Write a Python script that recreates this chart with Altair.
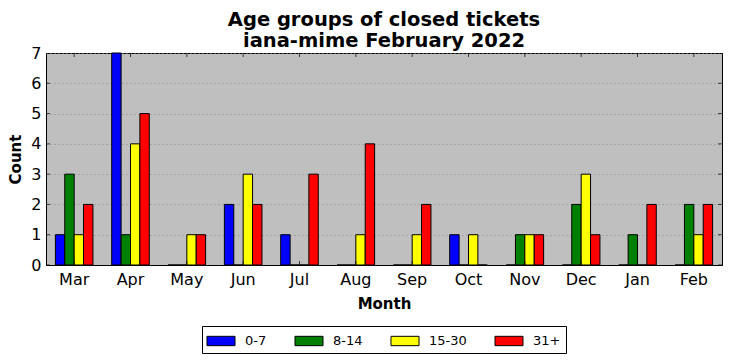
import altair as alt
import pandas as pd

months = ["Mar", "Apr", "May", "Jun", "Jul", "Aug", "Sep", "Oct", "Nov", "Dec", "Jan", "Feb"]
groups = ["0-7", "8-14", "15-30", "31+"]
g0_7 = [1, 7, 0, 2, 1, 0, 0, 1, 0, 0, 0, 0]
g8_14 = [3, 1, 0, 0, 0, 0, 0, 0, 1, 2, 1, 2]
g15_30 = [1, 4, 1, 3, 0, 1, 1, 1, 1, 3, 0, 1]
g31 = [2, 5, 1, 2, 3, 4, 2, 0, 1, 1, 2, 2]
colors = ["#0000ff", "#008000", "#ffff00", "#ff0000"]
y_ticks = [0, 1, 2, 3, 4, 5, 6, 7]

series = [g0_7, g8_14, g15_30, g31]
rows = []
for g, vals in zip(groups, series):
    for m, v in zip(months, vals):
        rows.append({"Month": m, "Group": g, "Count": v})
df = pd.DataFrame(rows)

FONT = "DejaVu Sans"
W, H = 676, 212

xscale = alt.Scale(domain=months, paddingInner=1 / 3, paddingOuter=1 / 6)
yscale = alt.Scale(domain=[0, 7], nice=False)

xaxis = alt.Axis(title="Month", labelAngle=0, ticks=False, grid=False,
                 labelFontSize=16, labelFont=FONT, labelColor="black",
                 labelPadding=6, titleFontSize=15, titleFont=FONT,
                 titleFontWeight="bold", titleColor="black", titlePadding=9,
                 domainColor="black")
yaxis = alt.Axis(title="Count", values=y_ticks, ticks=False, grid=True,
                 labelOverlap=False, labelSeparation=0,
                 gridColor="#888888", gridDash=[1, 3], gridWidth=1,
                 labelFontSize=16, labelFont=FONT, labelColor="black",
                 labelPadding=5, titleFontSize=15, titleFont=FONT,
                 titleFontWeight="bold", titleColor="black", titlePadding=7,
                 domainColor="black")

rect_path = "M-1.5,-0.5L1.5,-0.5L1.5,0.5L-1.5,0.5Z"

bars = alt.Chart(df).mark_bar(stroke="black", strokeWidth=1).encode(
    x=alt.X("Month:N", sort=months, scale=xscale, axis=xaxis),
    xOffset=alt.XOffset("Group:N", sort=groups,
                        scale=alt.Scale(domain=groups, paddingInner=0, paddingOuter=0)),
    y=alt.Y("Count:Q", scale=yscale, axis=yaxis),
    color=alt.Color("Group:N", sort=groups,
                    scale=alt.Scale(domain=groups, range=colors),
                    legend=alt.Legend(orient="none", legendX=156, legendY=273,
                                      direction="horizontal", title=None,
                                      symbolType=rect_path, symbolSize=350,
                                      symbolStrokeColor="black", symbolStrokeWidth=1,
                                      symbolOffset=4,
                                      labelFontSize=13, labelFont=FONT, labelColor="black",
                                      columnPadding=25, labelOffset=14,
                                      fillColor="white", strokeColor="black",
                                      padding=5)),
)

ydf = pd.DataFrame({"Count": y_ticks})
mdf = pd.DataFrame({"Month": months})

ytick_left = alt.Chart(ydf).mark_tick(orient="horizontal", size=8, thickness=1,
                                      color="black", clip=True).encode(
    y=alt.Y("Count:Q", scale=yscale, axis=yaxis), x=alt.value(0))
ytick_right = alt.Chart(ydf).mark_tick(orient="horizontal", size=8, thickness=1,
                                       color="black", clip=True).encode(
    y=alt.Y("Count:Q", scale=yscale, axis=yaxis), x=alt.value(W))
xtick_bottom = alt.Chart(mdf).mark_tick(orient="vertical", size=8, thickness=1,
                                        color="black", clip=True).encode(
    x=alt.X("Month:N", sort=months, scale=xscale, axis=xaxis), y=alt.value(H))
xtick_top = alt.Chart(mdf).mark_tick(orient="vertical", size=8, thickness=1,
                                     color="black", clip=True).encode(
    x=alt.X("Month:N", sort=months, scale=xscale, axis=xaxis), y=alt.value(0))

chart = alt.layer(bars, ytick_left, ytick_right, xtick_bottom, xtick_top).properties(
    width=W, height=H,
    title=alt.Title(["Age groups of closed tickets", "iana-mime February 2022"],
                    font=FONT, fontSize=19.5, fontWeight="bold", color="black",
                    anchor="middle", lineHeight=21, offset=-6),
    autosize=alt.AutoSizeParams(type="none"),
    padding={"left": 38, "top": 45, "right": 2, "bottom": 90},
    background="white",
).configure_view(
    fill="#bfbfbf", stroke="black", strokeWidth=1
)

chart.save("out.html", embed_options={"renderer": "svg", "actions": False})
